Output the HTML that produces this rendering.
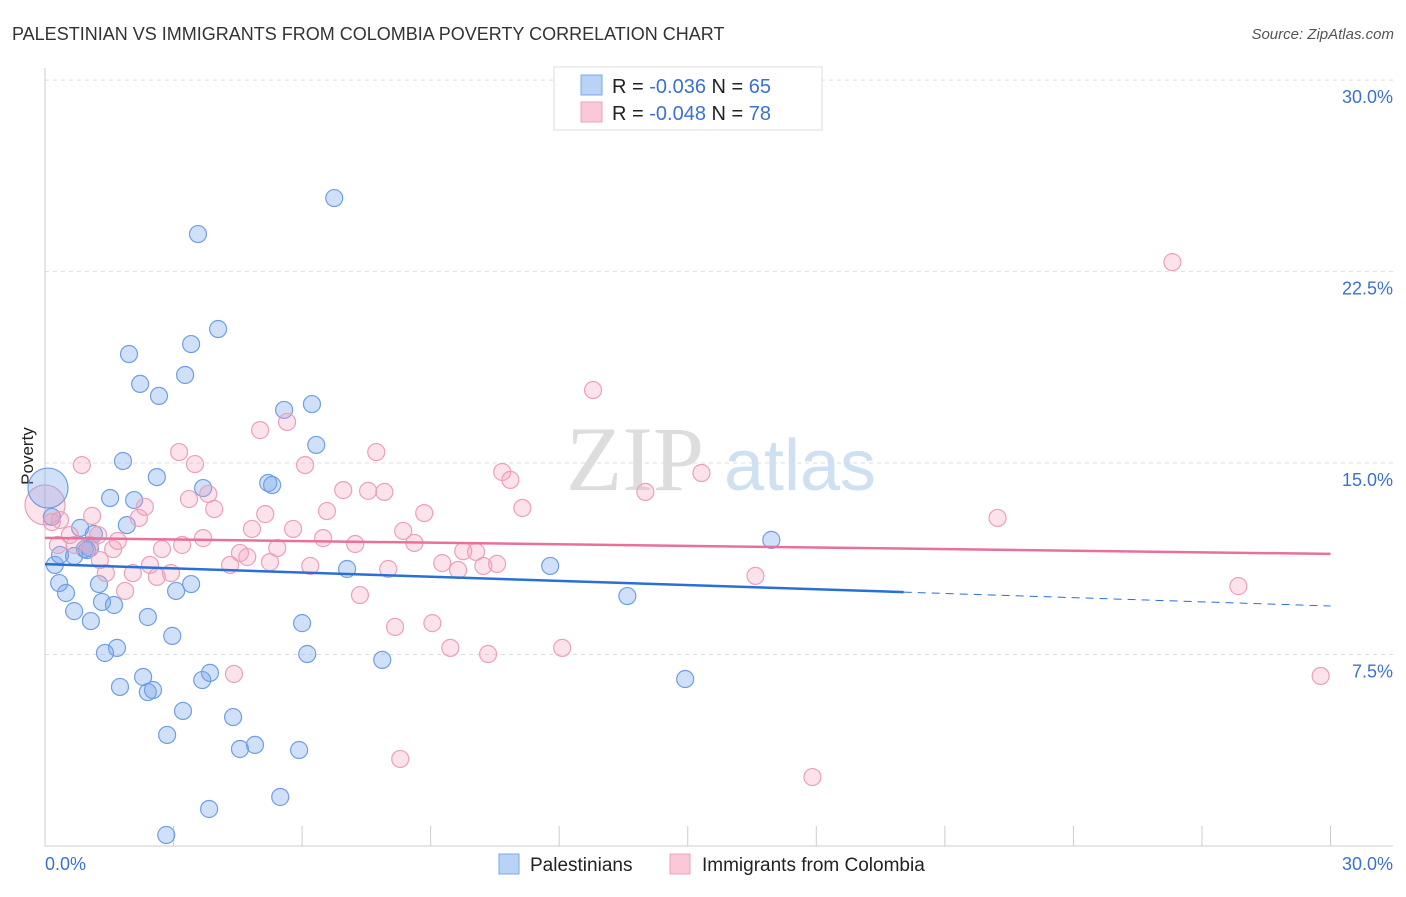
<!DOCTYPE html>
<html><head><meta charset="utf-8"><style>
body{margin:0;background:#fff;font-family:"Liberation Sans",sans-serif;}
</style></head><body>
<svg id="chart" width="1406" height="892" xmlns="http://www.w3.org/2000/svg">
<text x="12" y="40" font-size="18" fill="#333">PALESTINIAN VS IMMIGRANTS FROM COLOMBIA POVERTY CORRELATION CHART</text>
<text x="1394" y="39" font-size="15" fill="#555" font-style="italic" text-anchor="end">Source: ZipAtlas.com</text>
<text x="33" y="456" font-size="17" fill="#222" text-anchor="middle" transform="rotate(-90 33 456)">Poverty</text>
<g><text x="635" y="490" font-size="92" fill="#ddd" font-family="Liberation Serif" text-anchor="middle">ZIP</text><text x="800" y="490" font-size="72" fill="#cfe0f3" text-anchor="middle">atlas</text></g>
<g id="grid"></g><g id="marks"></g>
<g>
<rect x="554" y="67" width="268" height="63" fill="#fff" stroke="#ddd"/>
<rect x="581" y="75" width="21" height="20" fill="#b8d3f5" stroke="#7aaae8"/>
<rect x="581" y="102" width="21" height="20" fill="#fbc8d8" stroke="#efa0bb"/>
<text x="612" y="93" font-size="20" fill="#222">R = <tspan fill="#3a72d0">-0.036</tspan>   N = <tspan fill="#3a72d0">65</tspan></text>
<text x="612" y="120" font-size="20" fill="#222">R = <tspan fill="#3a72d0">-0.048</tspan>   N = <tspan fill="#3a72d0">78</tspan></text>
</g>
<g>
<rect x="499" y="854" width="20" height="20" fill="#b8d3f5" stroke="#7aaae8"/>
<text x="530" y="871" font-size="19" fill="#222">Palestinians</text>
<rect x="670" y="854" width="20" height="20" fill="#fbc8d8" stroke="#efa0bb"/>
<text x="702" y="871" font-size="19" fill="#222">Immigrants from Colombia</text>
</g>
</svg>
<script>
const yTicks=[30,22.5,15,7.5];
const yTickLabels=["30.0%","22.5%","15.0%","7.5%"];
const blueX=[6.75,3.57,4.04,3.41,1.96,2.22,3.27,2.66,5.58,6.23,6.33,1.82,2.61,1.52,2.08,3.69,5.21,5.3,1.91,0.82,1.14,0.16,0.23,0.35,0.68,0.93,1.05,0.33,0.49,1.26,1.33,1.61,0.68,1.07,2.4,3.06,3.41,2.97,6.0,1.68,1.4,6.12,7.87,7.05,11.79,13.59,16.95,14.94,2.29,1.75,2.4,2.52,3.85,3.67,3.22,4.39,2.85,4.9,4.55,5.93,5.49,3.83,2.83,0.98];
const blueY=[25.38,23.97,20.25,19.66,19.27,18.1,18.45,17.63,17.08,17.31,15.71,15.08,14.45,13.63,13.55,14.02,14.22,14.14,12.57,12.46,12.22,12.89,11.01,11.4,11.36,11.63,11.67,10.3,9.91,10.26,9.56,9.44,9.2,8.81,8.97,9.99,10.26,8.23,8.73,7.76,7.56,7.52,7.29,10.85,10.97,9.79,11.99,6.54,6.62,6.23,6.03,6.11,6.78,6.5,5.29,5.05,4.35,3.96,3.8,3.76,1.92,1.45,0.43,11.59];
const pinkX=[26.31,12.79,5.65,5.02,3.13,7.73,0.86,3.5,6.07,10.67,10.86,15.32,14.01,3.81,3.36,6.96,7.54,7.92,11.14,8.85,3.95,2.33,5.14,6.58,2.19,1.1,22.23,0.16,4.83,5.79,8.36,0.58,1.24,3.69,3.2,1.7,6.49,7.24,8.62,5.42,2.73,1.59,0.3,1.05,4.55,4.72,5.25,4.32,6.19,9.27,9.64,9.76,10.06,10.23,10.55,2.45,2.94,2.05,1.42,2.61,8.01,1.87,7.35,16.58,27.85,8.17,9.04,9.46,10.34,12.07,4.41,29.77,8.29,17.91,0.35,0.7,1.28];
const pinkY=[22.87,17.86,16.61,16.29,15.43,15.43,14.92,14.96,14.92,14.65,14.34,14.61,13.87,13.79,13.59,13.94,13.91,13.87,13.24,13.04,13.2,13.28,13.0,13.12,12.85,12.93,12.85,12.69,12.42,12.42,12.34,12.18,12.18,12.06,11.79,11.95,12.06,11.83,11.87,11.67,11.63,11.63,11.79,11.79,11.48,11.32,11.12,11.01,10.97,11.08,10.81,11.55,11.52,10.97,11.05,11.01,10.69,10.69,10.69,10.54,10.85,9.99,9.83,10.58,10.18,8.58,8.73,7.76,7.52,7.76,6.74,6.66,3.41,2.7,12.77,11.79,11.2];
const bigBlue=[0.07,14.02], bigPink=[0,13.36];
const blueTrend=[11.04,9.4], blueSolidEnd=20.04, pinkTrend=[12.07,11.44];
const X=v=>45+v*42.85, Y=v=>846-v*25.53;
const NS="http://www.w3.org/2000/svg";
function mk(tag,attrs,parent){const e=document.createElementNS(NS,tag);for(const k in attrs)e.setAttribute(k,attrs[k]);parent.appendChild(e);return e;}
const grid=document.getElementById('grid'), marks=document.getElementById('marks');
yTicks.forEach((t,i)=>{
 const l=mk('line',{x1:45,x2:1393,y1:Y(t),y2:Y(t),stroke:'#ddd','stroke-dasharray':'4,4'},grid);
 
 
 const tx=mk('text',{x:1393,y:Y(t)+23,'font-size':18,fill:'#3a72d0','text-anchor':'end'},grid);
 tx.textContent=yTickLabels[i];
 
 
});
const ax=mk('line',{x1:45,x2:45,y1:68,y2:846,stroke:'#ccc'},grid);


const bx=mk('line',{x1:45,x2:1393,y1:846,y2:846,stroke:'#ccc'},grid);


for(let i=0;i<=10;i++){const t=mk('line',{x1:X(i*3),x2:X(i*3),y1:826,y2:846,stroke:'#ccc'},grid);
 
 }
[[45,'0.0%','start'],[1393,'30.0%','end']].forEach(a=>{const t=mk('text',{x:a[0],y:870,'font-size':18,fill:'#3a72d0','text-anchor':a[2]},grid);t.textContent=a[1];
 
 });
function dot(x,y,r,c,name){const d=mk('circle',{cx:X(x),cy:Y(y),r:r,fill:c[0],stroke:c[1],'stroke-width':1.2},marks);
 
 }
const bc=['rgba(120,165,235,0.35)','#6f9fe2'], pc=['rgba(245,160,190,0.3)','#eba0ba'];
dot(bigPink[0],bigPink[1],20,pc,'colombia-point');
dot(bigBlue[0],bigBlue[1],20,bc,'palestinian-point');
blueX.forEach((x,i)=>dot(x,blueY[i],8.5,bc,'palestinian-point'));
pinkX.forEach((x,i)=>dot(x,pinkY[i],8.5,pc,'colombia-point'));
const by=v=>blueTrend[0]+(blueTrend[1]-blueTrend[0])*v/30;
let l1=mk('line',{x1:X(0),y1:Y(by(0)),x2:X(blueSolidEnd),y2:Y(by(blueSolidEnd)),stroke:'#2a6fd6','stroke-width':2.5},marks);


let l2=mk('line',{x1:X(blueSolidEnd),y1:Y(by(blueSolidEnd)),x2:X(30),y2:Y(by(30)),stroke:'#2a6fd6','stroke-width':1,'stroke-dasharray':'8,6'},marks);


let l3=mk('line',{x1:X(0),y1:Y(pinkTrend[0]),x2:X(30),y2:Y(pinkTrend[1]),stroke:'#e8709a','stroke-width':2.5},marks);


</script>
</body></html>
